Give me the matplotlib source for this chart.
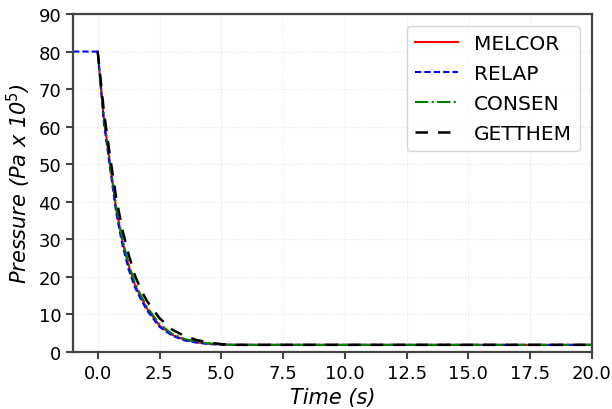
import numpy as np
import matplotlib.pyplot as plt

# time (s) and pressure (Pa x 10^5)
t = [0, 0.25, 0.5, 0.75, 1.0, 1.25, 1.5, 1.75, 2.0, 2.5, 3.0, 3.5, 4.0, 4.5, 5.0, 5.5, 6.0, 20.0]
melcor = [80, 62, 50, 38, 29.5, 23, 18, 14.5, 11.5, 7.0, 4.6, 3.3, 2.6, 2.2, 2.0, 1.9, 1.9, 1.9]
consen = [80, 62.5, 50.5, 38.5, 30, 23.5, 18.5, 15, 12, 7.4, 4.9, 3.5, 2.7, 2.3, 2.0, 1.9, 1.9, 1.9]
getthem = [80, 64, 52, 41, 32.5, 26, 20.5, 16.5, 13.5, 9.0, 6.0, 4.3, 3.2, 2.5, 2.1, 1.9, 1.9, 1.9]

t_relap = [-1.0] + t
relap = [80, 80, 61, 49, 37, 28.5, 22, 17.3, 14, 11, 6.7, 4.4, 3.1, 2.5, 2.1, 1.95, 1.9, 1.9, 1.9]

fig = plt.figure(figsize=(6.12, 4.10), dpi=100)
ax = fig.add_axes([73 / 612, 57 / 410, 519 / 612, 338 / 410])

ax.plot(t, melcor, color='red', lw=1.5, label='MELCOR')
ax.plot(t_relap, relap, color='blue', lw=1.5, ls=(0, (3, 1.5)), label='RELAP')
ax.plot(t, consen, color='green', lw=1.5, ls='-.', label='CONSEN')
ax.plot(t, getthem, color='black', lw=1.8, ls=(0, (5, 4)), label='GETTHEM')

ax.set_xlim(-1, 20)
ax.set_ylim(0, 90)
ax.set_xticks(np.arange(0, 20.1, 2.5))
ax.set_yticks(np.arange(0, 91, 10))
ax.tick_params(labelsize=13, width=1.5, length=5, color='#444444')
ax.grid(True, color='#e6e6e6', ls=':', lw=0.8)
for s in ax.spines.values():
    s.set_color('#444444')
    s.set_linewidth(1.6)

ax.set_xlabel('Time (s)', fontsize=15, style='italic')
ax.set_ylabel('Pressure (Pa x 10$^5$)', fontsize=15, style='italic')
ax.legend(loc='upper right', fontsize=14.5, handlelength=2.1, labelspacing=0.55,
          borderaxespad=0.6)

fig.savefig('out.png', dpi=100)
